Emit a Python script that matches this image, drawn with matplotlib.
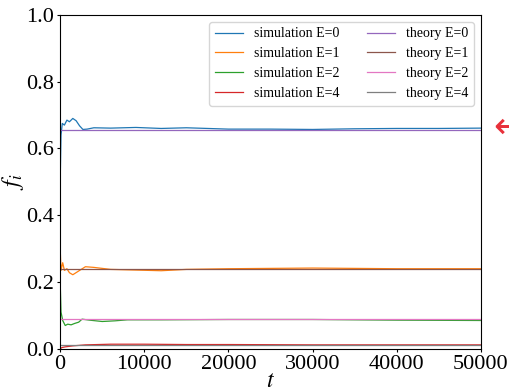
import matplotlib.pyplot as plt
import numpy as np

plt.rcParams['font.family'] = 'Liberation Serif'
plt.rcParams['mathtext.fontset'] = 'stix'

# simulation curves
t_e0 = [0, 100, 250, 500, 800, 1100, 1500, 1900, 2300, 2700, 3200, 4000, 6000, 9000, 12000, 15000, 20000, 25000, 30000, 35000, 40000, 45000, 50000]
f_e0 = [0.50, 0.64, 0.675, 0.67, 0.685, 0.68, 0.69, 0.683, 0.668, 0.657, 0.658, 0.662, 0.661, 0.663, 0.660, 0.662, 0.658, 0.658, 0.657, 0.659, 0.660, 0.660, 0.661]

t_e1 = [0, 100, 300, 500, 800, 1100, 1500, 2000, 2500, 3000, 4000, 6000, 9000, 12000, 15000, 20000, 25000, 30000, 35000, 40000, 45000, 50000]
f_e1 = [0.30, 0.235, 0.258, 0.235, 0.240, 0.228, 0.222, 0.230, 0.238, 0.246, 0.244, 0.238, 0.236, 0.234, 0.238, 0.240, 0.241, 0.242, 0.241, 0.240, 0.240, 0.240]

t_e2 = [0, 100, 300, 600, 900, 1300, 1700, 2200, 2600, 3500, 5000, 6500, 8000, 12000, 20000, 30000, 40000, 50000]
f_e2 = [0.20, 0.11, 0.085, 0.070, 0.074, 0.072, 0.076, 0.080, 0.089, 0.086, 0.082, 0.084, 0.087, 0.087, 0.088, 0.088, 0.086, 0.085]

t_e4 = [0, 200, 600, 1500, 3000, 6000, 10000, 15000, 20000, 30000, 40000, 50000]
f_e4 = [0.0, 0.004, 0.006, 0.009, 0.012, 0.014, 0.014, 0.013, 0.013, 0.012, 0.012, 0.012]

# theory values
theory = [0.655, 0.240, 0.088, 0.012]
t_max = 50000

fig, ax = plt.subplots(figsize=(5.1, 3.92), dpi=100)
fig.subplots_adjust(left=0.118, right=0.943, top=0.962, bottom=0.11)

ax.plot(t_e0, f_e0, lw=0.9, label='simulation E=0')
ax.plot(t_e1, f_e1, lw=0.9, label='simulation E=1')
ax.plot(t_e2, f_e2, lw=0.9, label='simulation E=2')
ax.plot(t_e4, f_e4, lw=0.9, label='simulation E=4')
names = ['0', '1', '2', '4']
for v, n in zip(theory, names):
    ax.plot([0, t_max], [v, v], lw=0.9, label='theory E=' + n)

ax.set_xlim(0, t_max)
ax.set_ylim(0, 1.0)
ax.set_xticks([0, 10000, 20000, 30000, 40000, 50000])
ax.set_yticks([0.0, 0.2, 0.4, 0.6, 0.8, 1.0])
ax.tick_params(labelsize=16, length=2.5, pad=2)
ax.set_xlabel('$t$', fontsize=17, labelpad=-2)
ax.set_ylabel('$f_i$', fontsize=17, labelpad=0)
ax.legend(loc='upper right', ncol=2, fontsize=10, columnspacing=2.0, handlelength=2.0)

fig.text(0.968, 0.675, '\u2190', color='#e8303a', fontsize=26, ha='left', va='center',
         family='DejaVu Sans')

fig.savefig('out.png', dpi=100)
